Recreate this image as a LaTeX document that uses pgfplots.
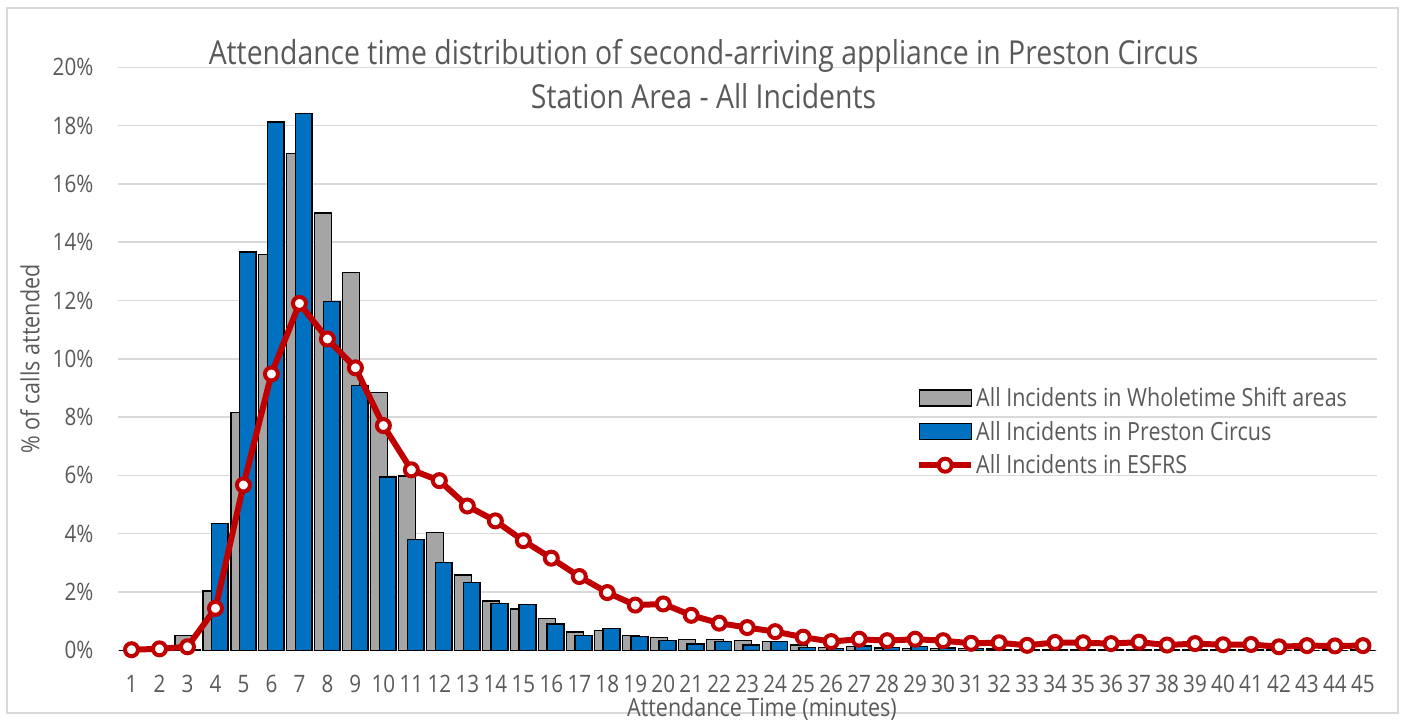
\documentclass[border=0pt]{standalone}
\usepackage{fontspec}
\setmainfont{Open Sans}[FakeStretch=0.86]
\usepackage{pgfplots}
\usepackage{pgfplotstable}
\pgfplotsset{compat=1.18}
\definecolor{txt}{HTML}{595959}
\definecolor{gridc}{HTML}{D9D9D9}
\definecolor{wgray}{HTML}{A5A5A5}
\definecolor{pblue}{HTML}{0070C0}
\definecolor{ered}{HTML}{C00000}

\pgfplotsset{
  barleg/.style={legend image code/.code={\draw[##1] (0pt,-8pt) rectangle (52pt,8pt);}},
  lineleg/.style={legend image code/.code={\draw[##1, mark repeat=2, mark phase=2]
      plot coordinates {(0pt,0pt) (26pt,0pt) (52pt,0pt)};}},
}

% t = attendance minute, wt = wholetime shift areas, pc = Preston Circus, es = ESFRS
\pgfplotstableread{
t  wt     pc     es
1  0      0      0.02
2  0      0      0.05
3  0.50   0.02   0.12
4  2.03   4.36   1.44
5  8.16   13.66  5.67
6  13.57  18.12  9.48
7  17.05  18.41  11.90
8  15.00  11.96  10.68
9  12.95  9.09   9.69
10 8.84   5.95   7.71
11 5.98   3.81   6.19
12 4.03   3.01   5.82
13 2.58   2.32   4.95
14 1.69   1.60   4.44
15 1.42   1.57   3.76
16 1.10   0.90   3.16
17 0.63   0.50   2.53
18 0.67   0.75   1.98
19 0.51   0.48   1.55
20 0.44   0.33   1.59
21 0.38   0.22   1.20
22 0.38   0.31   0.93
23 0.33   0.18   0.78
24 0.30   0.30   0.64
25 0.18   0.10   0.45
26 0.10   0.05   0.30
27 0.12   0.15   0.38
28 0.08   0.10   0.33
29 0.07   0.12   0.38
30 0.06   0.08   0.33
31 0.05   0.05   0.24
32 0.04   0.03   0.26
33 0.03   0.02   0.17
34 0.03   0.02   0.27
35 0.03   0.02   0.26
36 0.02   0.01   0.23
37 0.02   0.01   0.28
38 0.02   0.01   0.18
39 0.02   0.01   0.23
40 0.02   0.01   0.19
41 0.01   0.01   0.20
42 0.01   0      0.12
43 0.01   0      0.16
44 0.01   0      0.15
45 0.01   0      0.16
}\datatable

\begin{document}
\begin{tikzpicture}[x=1pt,y=1pt]
\path (0,0) rectangle (1405,720);
\draw[gridc, line width=1.2pt] (7,7) rectangle (1398,712);
\begin{axis}[
    at={(117.5pt,69.7pt)}, anchor=south west,
    scale only axis, width=1259.5pt, height=583pt,
    xmin=0.5, xmax=45.5, ymin=0, ymax=20,
    clip=false,
    xtick={1,...,45}, ytick={0,2,...,20},
    axis line style={draw=none},
    major tick length=0pt,
    ymajorgrids,
    grid style={gridc, line width=1.5pt},
    ticklabel style={font=\fontsize{24}{28}\selectfont, text=txt},
    xticklabel style={anchor=north, inner sep=0pt, yshift=-25pt},
    yticklabel style={anchor=east, inner sep=0pt, xshift=-24pt},
    xticklabel={\pgfmathprintnumber[assume math mode=true]{\tick}},
    yticklabel={\pgfmathprintnumber[assume math mode=true]{\tick}\%},
    legend style={at={(axis description cs:0.634,0.454)}, anchor=north west,
        draw=none, fill=none, font=\fontsize{25}{30}\selectfont, text=txt,
        inner sep=0pt, row sep=9pt, nodes={inner sep=2pt}},
    legend cell align=left,
]
\addplot[ybar, bar width=0.6, bar shift=-0.15, fill=wgray, draw=black, line width=1.3pt, barleg]
    table[x=t, y=wt] {\datatable};
\addlegendentry{All Incidents in Wholetime Shift areas}
\addplot[ybar, bar width=0.6, bar shift=0.15, fill=pblue, draw=black, line width=1.3pt, barleg]
    table[x=t, y=pc] {\datatable};
\addlegendentry{All Incidents in Preston Circus}
\addplot[ered, line width=6pt, mark=*, mark size=6.5pt,
    mark options={fill=white, draw=ered, line width=4pt}, lineleg]
    table[x=t, y=es] {\datatable};
\addlegendentry{All Incidents in ESFRS}
\end{axis}
\node[font=\fontsize{33}{44}\selectfont, text=txt, align=center] at (703.5,646)
    {Attendance time distribution of second-arriving appliance in Preston Circus\\Station Area - All Incidents};
\node[rotate=90, font=\fontsize{25}{30}\selectfont, text=txt] at (30,361) {\% of calls attended};
\node[font=\fontsize{25}{30}\selectfont, text=txt] at (762,11) {Attendance Time (minutes)};
\end{tikzpicture}
\end{document}
